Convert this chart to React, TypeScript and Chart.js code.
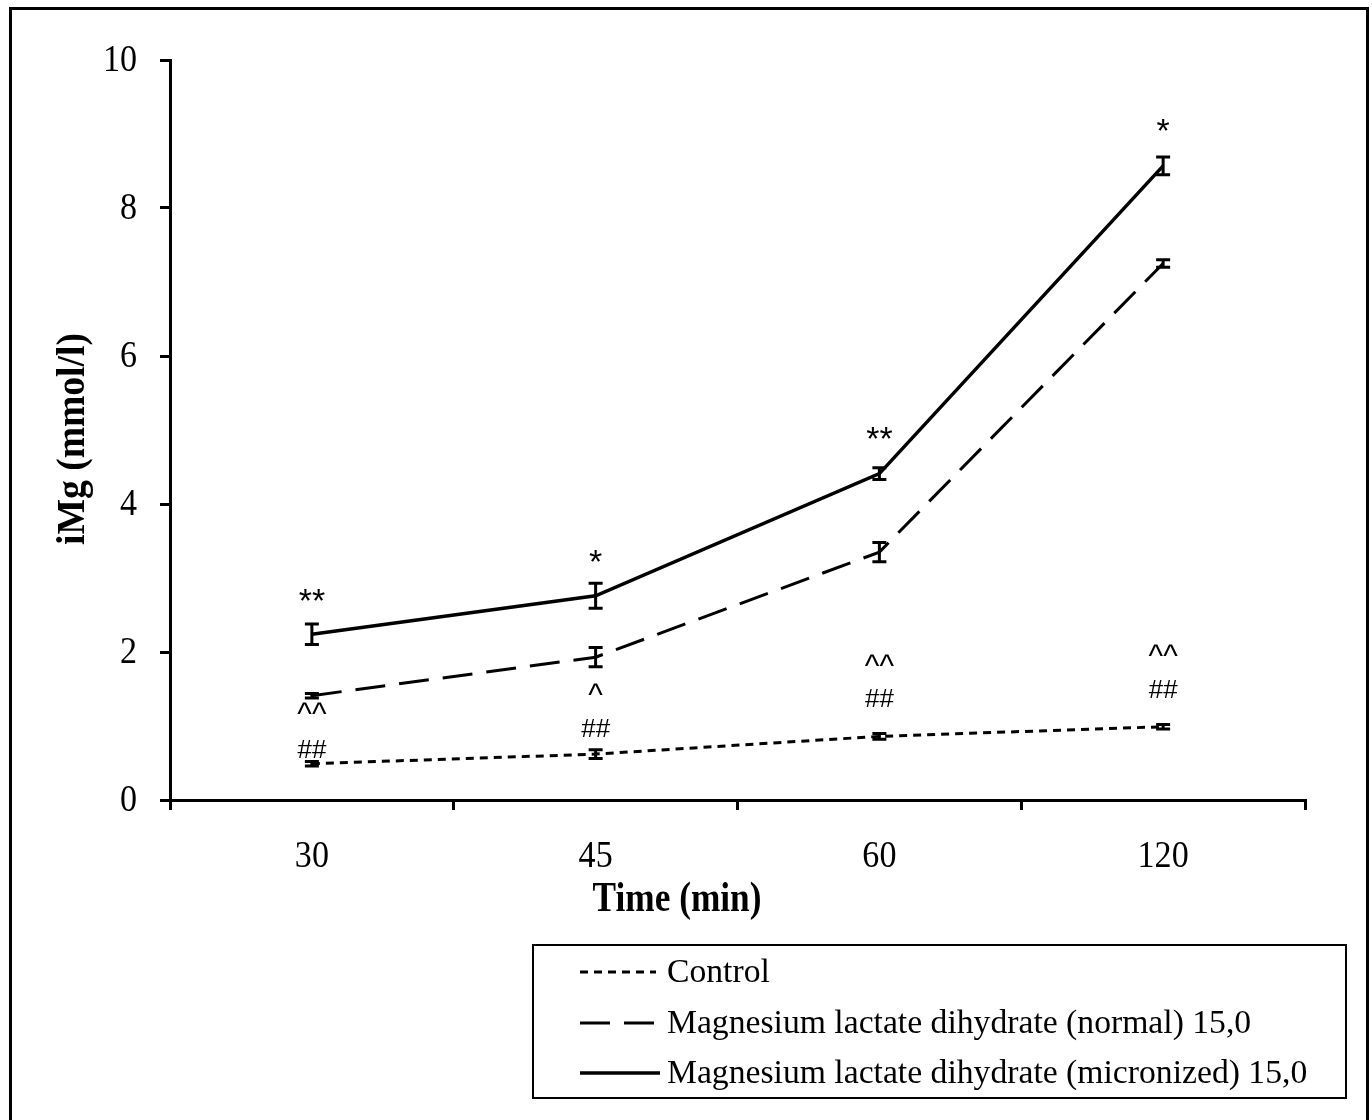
import React, { useEffect, useRef } from "react";
import { Chart, registerables } from "chart.js";

Chart.register(...registerables);

const categories = ["30", "45", "60", "120"];
const controlMean = [0.49, 0.62, 0.86, 0.99];
const controlErr = [0.03, 0.06, 0.04, 0.03];
const normalMean = [1.41, 1.93, 3.35, 7.25];
const normalErr = [0.03, 0.13, 0.13, 0.05];
const micronMean = [2.24, 2.76, 4.41, 8.57];
const micronErr = [0.14, 0.17, 0.08, 0.12];

const yTicks = [0, 2, 4, 6, 8, 10];

// significance marks and the value level where each is written
const starMarks = ["**", "*", "**", "*"];
const starLevel = [2.8, 3.32, 4.99, 9.15];
const caretMarks = ["^^", "^", "^^", "^^"];
const caretLevel = [1.25, 1.5, 1.89, 2.03];
const hashMarks = ["##", "##", "##", "##"];
const hashLevel = [0.69, 0.98, 1.385, 1.51];

const seriesNames = [
  "Control",
  "Magnesium lactate dihydrate (normal) 15,0",
  "Magnesium lactate dihydrate (micronized) 15,0",
];

const SERIF = "'Liberation Serif', 'Times New Roman', serif";
const SANS = "'Liberation Sans', Arial, sans-serif";

export default function App() {
  const ref = useRef<HTMLCanvasElement | null>(null);

  useEffect(() => {
    const canvas = ref.current;
    if (!canvas) return;

    const errs = [controlErr, normalErr, micronErr];

    const errorBars = {
      id: "errorBars",
      afterDatasetsDraw(chart: any) {
        const ctx = chart.ctx;
        const xs = chart.scales.x;
        const ys = chart.scales.y;
        ctx.save();
        ctx.strokeStyle = "#000";
        ctx.lineWidth = 3;
        chart.data.datasets.forEach((ds: any, di: number) => {
          ds.data.forEach((v: number, i: number) => {
            const e = errs[di][i];
            const x = xs.getPixelForValue(i);
            const yt = ys.getPixelForValue(v + e);
            const yb = ys.getPixelForValue(v - e);
            ctx.beginPath();
            ctx.moveTo(x, yt);
            ctx.lineTo(x, yb);
            ctx.moveTo(x - 7, yt);
            ctx.lineTo(x + 7, yt);
            ctx.moveTo(x - 7, yb);
            ctx.lineTo(x + 7, yb);
            ctx.stroke();
          });
        });
        ctx.restore();
      },
    };

    const condensed = (ctx: any, text: string, x: number, y: number, sx: number) => {
      ctx.save();
      ctx.translate(x, y);
      ctx.scale(sx, 1);
      ctx.fillText(text, 0, 0);
      ctx.restore();
    };

    const extras = {
      id: "extras",
      afterDraw(chart: any) {
        const ctx = chart.ctx;
        const xs = chart.scales.x;
        const ys = chart.scales.y;
        const area = chart.chartArea;
        ctx.save();
        ctx.fillStyle = "#000";

        // tick labels
        ctx.font = `37px ${SERIF}`;
        ctx.textBaseline = "middle";
        ctx.textAlign = "right";
        yTicks.forEach((v) => {
          condensed(ctx, String(v), area.left - 33, ys.getPixelForValue(v) + 1, 0.92);
        });
        ctx.textAlign = "center";
        ctx.textBaseline = "alphabetic";
        categories.forEach((c, i) => {
          condensed(ctx, c, xs.getPixelForValue(i), area.bottom + 67, 0.92);
        });

        // significance marks
        ctx.textAlign = "center";
        ctx.textBaseline = "alphabetic";
        const drawMarks = (marks: string[], lv: number[], font: string, dy: number) => {
          ctx.font = font;
          marks.forEach((m, i) => {
            ctx.fillText(m, xs.getPixelForValue(i), ys.getPixelForValue(lv[i]) + dy);
          });
        };
        drawMarks(starMarks, starLevel, `34px ${SANS}`, 19);
        drawMarks(caretMarks, caretLevel, `31px ${SANS}`, 16);
        drawMarks(hashMarks, hashLevel, `26px ${SANS}`, 9.5);

        // axis titles
        ctx.font = `bold 42px ${SERIF}`;
        ctx.textAlign = "center";
        ctx.textBaseline = "alphabetic";
        condensed(ctx, "Time (min)", 677, 911, 0.84);
        ctx.save();
        ctx.translate(84, 439);
        ctx.rotate(-Math.PI / 2);
        ctx.font = `bold 40px ${SERIF}`;
        ctx.scale(0.94, 1);
        ctx.fillText("iMg (mmol/l)", 0, 0);
        ctx.restore();

        // outer frame
        ctx.strokeStyle = "#000";
        ctx.lineWidth = 3;
        ctx.strokeRect(10.5, 8.5, 1357, 1120);

        // legend box
        ctx.lineWidth = 2;
        ctx.strokeRect(533, 945, 813, 153);
        const rows = [972, 1023, 1073];
        chart.data.datasets.forEach((ds: any, di: number) => {
          const y = rows[di];
          ctx.save();
          ctx.beginPath();
          ctx.lineWidth = ds.borderWidth;
          ctx.setLineDash(ds.borderDash || []);
          ctx.moveTo(580, y);
          ctx.lineTo(di === 0 ? 656 : 660, y);
          ctx.stroke();
          ctx.restore();
          ctx.font = `34px ${SERIF}`;
          ctx.textAlign = "left";
          ctx.textBaseline = "middle";
          condensed(ctx, seriesNames[di], 667, y + 1, 0.99);
        });
        ctx.restore();
      },
    };

    const chart = new Chart(canvas, {
      type: "line",
      data: {
        labels: categories,
        datasets: [
          {
            label: seriesNames[0],
            data: controlMean,
            borderColor: "#000",
            borderWidth: 3,
            borderDash: [8, 6],
            pointRadius: 0,
            fill: false,
          },
          {
            label: seriesNames[1],
            data: normalMean,
            borderColor: "#000",
            borderWidth: 3,
            borderDash: [30, 14],
            pointRadius: 0,
            fill: false,
          },
          {
            label: seriesNames[2],
            data: micronMean,
            borderColor: "#000",
            borderWidth: 3.5,
            pointRadius: 0,
            fill: false,
          },
        ],
      },
      options: {
        animation: false,
        responsive: false,
        maintainAspectRatio: false,
        layout: { padding: { left: 0, top: 60, right: 67, bottom: 0 } },
        plugins: {
          legend: { display: false },
          tooltip: { enabled: false },
        },
        scales: {
          x: {
            type: "category",
            offset: true,
            grid: {
              offset: true,
              drawOnChartArea: false,
              drawTicks: true,
              tickLength: 10,
              color: "#000",
              lineWidth: 3,
            },
            border: { display: true, color: "#000", width: 3 },
            ticks: { display: false },
            afterFit(scale: any) {
              scale.height = 320;
            },
          },
          y: {
            type: "linear",
            min: 0,
            max: 10,
            afterBuildTicks(scale: any) {
              scale.ticks = yTicks.map((v) => ({ value: v }));
            },
            grid: {
              drawOnChartArea: false,
              drawTicks: true,
              tickLength: 10,
              color: "#000",
              lineWidth: 3,
            },
            border: { display: true, color: "#000", width: 3 },
            ticks: { display: false },
            afterFit(scale: any) {
              scale.width = 170;
            },
          },
        },
      },
      plugins: [errorBars, extras],
    });

    return () => chart.destroy();
  }, []);

  return (
    <div style={{ position: "fixed", left: 0, top: 0, width: 1372, height: 1120, background: "#fff" }}>
      <canvas ref={ref} width={1372} height={1120} style={{ width: 1372, height: 1120, display: "block" }} />
    </div>
  );
}
